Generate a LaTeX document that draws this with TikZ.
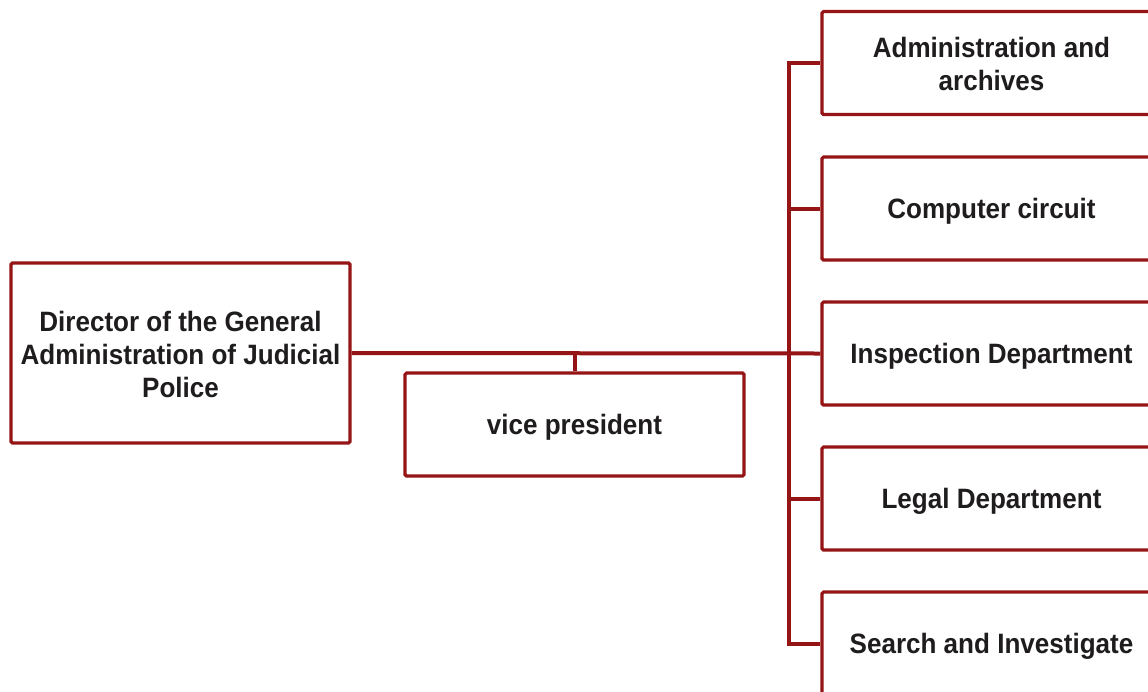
\documentclass[tikz,border=0pt]{standalone}
\usepackage{fontspec}
\newfontfamily\lbl{Liberation Sans}[FakeStretch=0.93]
\definecolor{linered}{HTML}{951416}
\definecolor{txt}{HTML}{1F1C1D}
\begin{document}
\begin{tikzpicture}[x=1pt,y=-1pt,
  box/.style={draw=linered, line width=3.2pt, rounded corners=1.5pt, fill=white,
    minimum width=339pt, inner sep=0pt, align=center, text=txt,
    font=\lbl\bfseries\fontsize{28}{33}\selectfont},
  oneline/.style={text height=20pt, text depth=0pt},
  conn/.style={draw=linered, line width=4pt}]
\useasboundingbox (0,0) rectangle (1148,691);
\clip (0,0) rectangle (1148,691);
\node[box, minimum height=180pt] (dir) at (180.5,353) {\strut Director of the General\\Administration of Judicial\\Police};
\node[box, oneline, minimum height=103pt] (vp) at (574.5,424.5) {vice president};
\node[box, minimum height=103pt] (b1) at (991.5,63) {\strut Administration and\\archives};
\node[box, oneline, minimum height=103pt] (b2) at (991.5,208.5) {Computer circuit};
\node[box, oneline, minimum height=103pt] (b3) at (991.5,353.5) {Inspection Department};
\node[box, oneline, minimum height=103pt] (b4) at (991.5,498.5) {Legal Department};
\node[box, oneline, minimum height=103pt] (b5) at (991.5,643.5) {Search and Investigate};
\coordinate (bt) at (789,63);
\coordinate (bb) at (789,643.5);
\draw[conn] (b1.west) -- (bt) -- (bb) -- (b5.west);
\draw[conn] (b2.west) -- (b2.west -| bt);
\draw[conn] (b4.west) -- (b4.west -| bt);
\draw[conn] (dir.east) -- (b3.west);
\draw[conn] (vp.north) -- (vp.north |- dir.east);
\end{tikzpicture}
\end{document}
